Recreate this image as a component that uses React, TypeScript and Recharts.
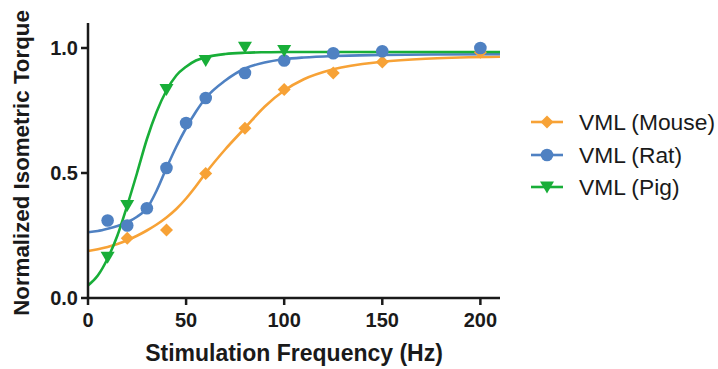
import {
  ComposedChart,
  Line,
  Scatter,
  XAxis,
  YAxis,
} from "recharts";

// measured points (Hz -> normalized torque)
const mouseFreq = [20, 40, 60, 80, 100, 125, 150, 200];
const mouseTorque = [0.239, 0.272, 0.498, 0.679, 0.834, 0.9, 0.944, 0.983];

const ratFreq = [10, 20, 30, 40, 50, 60, 80, 100, 125, 150, 200];
const ratTorque = [0.31, 0.29, 0.359, 0.52, 0.7, 0.8, 0.9, 0.95, 0.979, 0.987, 1.0];

const pigFreq = [10, 20, 40, 60, 80, 100];
const pigTorque = [0.163, 0.37, 0.834, 0.95, 1.003, 0.99];

// fitted curves
const fitFreq = [0, 5, 10, 15, 20, 25, 30, 35, 40, 45, 50, 55, 60, 70, 80, 90, 100, 110, 125, 150, 175, 210];
const mouseFit = [0.188, 0.195, 0.204, 0.216, 0.231, 0.249, 0.27, 0.294, 0.322, 0.356, 0.398, 0.447, 0.5, 0.595, 0.68, 0.765, 0.83, 0.875, 0.915, 0.945, 0.958, 0.965];
const ratFit = [0.263, 0.268, 0.277, 0.288, 0.303, 0.325, 0.358, 0.43, 0.52, 0.605, 0.68, 0.745, 0.8, 0.87, 0.918, 0.942, 0.955, 0.962, 0.968, 0.972, 0.974, 0.975];
const pigFit = [0.05, 0.09, 0.158, 0.25, 0.37, 0.5, 0.635, 0.745, 0.83, 0.89, 0.925, 0.95, 0.963, 0.976, 0.981, 0.983, 0.984, 0.984, 0.984, 0.984, 0.984, 0.984];

const xTicks = [0, 50, 100, 150, 200];
const yTicks = [0, 0.5, 1.0];

const ORANGE = "#F7A236";
const BLUE = "#4F81C2";
const GREEN = "#18AE38";
const INK = "#1a1a1a";
const FONT = "'Liberation Sans', Arial, sans-serif";

const toPoints = (xs: number[], ys: number[]) => xs.map((x, i) => ({ x, y: ys[i] }));

type Marker = "diamond" | "circle" | "triangleDown";

function MarkerShape({ cx, cy, kind, color }: { cx: number; cy: number; kind: Marker; color: string }) {
  if (kind === "circle") return <circle cx={cx} cy={cy} r={6.3} fill={color} />;
  if (kind === "diamond") {
    const r = 6.5;
    return <polygon points={`${cx},${cy - r} ${cx + r},${cy} ${cx},${cy + r} ${cx - r},${cy}`} fill={color} />;
  }
  return (
    <polygon
      points={`${cx - 7},${cy - 5.5} ${cx + 7},${cy - 5.5} ${cx},${cy + 6.5}`}
      fill={color}
    />
  );
}

const series = [
  { name: "VML (Mouse)", color: ORANGE, kind: "diamond" as Marker, pts: toPoints(mouseFreq, mouseTorque), fit: toPoints(fitFreq, mouseFit) },
  { name: "VML (Rat)", color: BLUE, kind: "circle" as Marker, pts: toPoints(ratFreq, ratTorque), fit: toPoints(fitFreq, ratFit) },
  { name: "VML (Pig)", color: GREEN, kind: "triangleDown" as Marker, pts: toPoints(pigFreq, pigTorque), fit: toPoints(fitFreq, pigFit) },
];

const tickStyle = { fontSize: 20, fontWeight: 700, fill: INK, fontFamily: FONT };
const axisStroke = { stroke: INK, strokeWidth: 2.5 };

export default function App() {
  return (
    <div style={{ position: "absolute", left: 0, top: 0, width: 718, height: 369, background: "#fff", fontFamily: FONT }}>
      <ComposedChart
        width={718}
        height={369}
        margin={{ top: 23, right: 218, left: 0, bottom: 0 }}
      >
        <XAxis
          type="number"
          dataKey="x"
          domain={[0, 210]}
          ticks={xTicks}
          allowDataOverflow
          height={71}
          tickSize={7}
          tickMargin={8}
          axisLine={axisStroke}
          tickLine={axisStroke}
          tick={tickStyle}
        />
        <YAxis
          type="number"
          dataKey="y"
          domain={[0, 1.1]}
          ticks={yTicks}
          allowDataOverflow
          width={88}
          tickSize={7}
          tickMargin={3}
          axisLine={axisStroke}
          tickLine={axisStroke}
          tick={tickStyle}
          tickFormatter={(v: number) => v.toFixed(1)}
        />
        {series.map((s) => (
          <Line
            key={s.name + "-fit"}
            data={s.fit}
            dataKey="y"
            type="monotone"
            stroke={s.color}
            strokeWidth={2.6}
            dot={false}
            activeDot={false}
            isAnimationActive={false}
          />
        ))}
        {series.map((s) => (
          <Scatter
            key={s.name}
            name={s.name}
            data={s.pts}
            dataKey="y"
            fill={s.color}
            isAnimationActive={false}
            shape={(p: any) => <MarkerShape cx={p.cx} cy={p.cy} kind={s.kind} color={s.color} />}
          />
        ))}
      </ComposedChart>

      <div
        style={{
          position: "absolute",
          left: 22,
          top: 163,
          transform: "translate(-50%, -50%) rotate(-90deg)",
          whiteSpace: "nowrap",
          fontSize: 22.3,
          fontWeight: 700,
          color: INK,
        }}
      >
        Normalized Isometric Torque
      </div>
      <div
        style={{
          position: "absolute",
          left: 294,
          top: 353,
          transform: "translate(-50%, -50%)",
          whiteSpace: "nowrap",
          fontSize: 23,
          fontWeight: 700,
          color: INK,
        }}
      >
        Stimulation Frequency (Hz)
      </div>

      {series.map((s, i) => (
        <div
          key={s.name}
          style={{
            position: "absolute",
            left: 530,
            top: [122, 155, 187][i] - 15,
            height: 30,
            display: "flex",
            alignItems: "center",
            whiteSpace: "nowrap",
          }}
        >
          <svg width={34} height={16} style={{ marginRight: 15 }}>
            <line x1={1} y1={8} x2={33} y2={8} stroke={s.color} strokeWidth={2.6} />
            <MarkerShape cx={17} cy={8} kind={s.kind} color={s.color} />
          </svg>
          <span style={{ fontSize: 22.8, color: INK }}>{s.name}</span>
        </div>
      ))}
    </div>
  );
}
